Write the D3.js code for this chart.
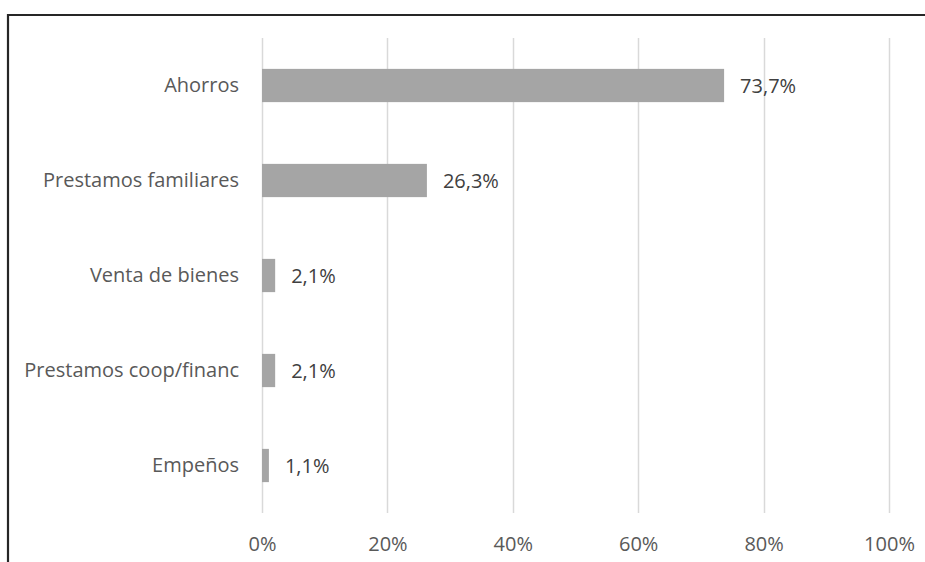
<!DOCTYPE html>
<html>
<head>
<meta charset="utf-8">
<script src="https://cdn.jsdelivr.net/npm/d3@7"></script>
<style>
  html, body { margin: 0; padding: 0; background: #fff; }
  svg { display: block; }
  text { font-family: "Open Sans", "Noto Sans", sans-serif; }
</style>
</head>
<body>
<div id="chart"></div>
<script>
// Fuentes de financiamiento (porcentaje de respuestas)
const categories = ["Ahorros", "Prestamos familiares", "Venta de bienes", "Prestamos coop/financ", "Empeños"];
const values = [73.7, 26.3, 2.1, 2.1, 1.1];
const valueLabels = ["73,7%", "26,3%", "2,1%", "2,1%", "1,1%"];
const ticks = [0, 20, 40, 60, 80, 100];
const tickLabels = ["0%", "20%", "40%", "60%", "80%", "100%"];

const W = 925, H = 562;
const plot = { left: 262, right: 889, top: 38, bottom: 513 };
const fontSize = "20px";

const svg = d3.select("#chart").append("svg")
  .attr("width", W).attr("height", H);

const x = d3.scaleLinear().domain([0, 100]).range([plot.left, plot.right]);
const y = d3.scaleBand().domain(categories).range([plot.top, plot.bottom]);
const barH = y.bandwidth() * 0.35;

// frame of the chart area
svg.append("path")
  .attr("d", `M8,${H} L8,15 L${W},15`)
  .attr("fill", "none")
  .attr("stroke", "#262626")
  .attr("stroke-width", 2.2);

// vertical gridlines
svg.append("g").selectAll("line").data(ticks).join("line")
  .attr("x1", d => Math.round(x(d)) + 0.5).attr("x2", d => Math.round(x(d)) + 0.5)
  .attr("y1", plot.top).attr("y2", plot.bottom)
  .attr("stroke", "#d9d9d9").attr("stroke-width", 1.5);

// x axis tick labels
const xAxis = d3.axisBottom(x).tickValues(ticks)
  .tickFormat((d, i) => tickLabels[i]).tickSize(0).tickPadding(0);
const gx = svg.append("g").attr("transform", `translate(0,${plot.bottom})`).call(xAxis);
gx.select(".domain").remove();
gx.selectAll("text")
  .attr("y", 32).attr("dy", "0.32em")
  .attr("fill", "#595959").style("font-size", fontSize);

// category axis labels
const yAxis = d3.axisLeft(y).tickSize(0).tickPadding(23);
const gy = svg.append("g").attr("transform", `translate(${plot.left},0)`).call(yAxis);
gy.select(".domain").remove();
gy.selectAll("text")
  .attr("fill", "#595959").style("font-size", fontSize);

// bars
svg.append("g").selectAll("rect").data(values).join("rect")
  .attr("x", x(0))
  .attr("y", (d, i) => y(categories[i]) + (y.bandwidth() - barH) / 2)
  .attr("width", d => x(d) - x(0))
  .attr("height", barH)
  .attr("fill", "#a5a5a5");

// value labels
svg.append("g").selectAll("text").data(values).join("text")
  .attr("x", d => x(d) + 16)
  .attr("y", (d, i) => y(categories[i]) + y.bandwidth() / 2)
  .attr("dy", "0.35em")
  .attr("fill", "#404040")
  .style("font-size", fontSize)
  .text((d, i) => valueLabels[i]);
</script>
</body>
</html>
